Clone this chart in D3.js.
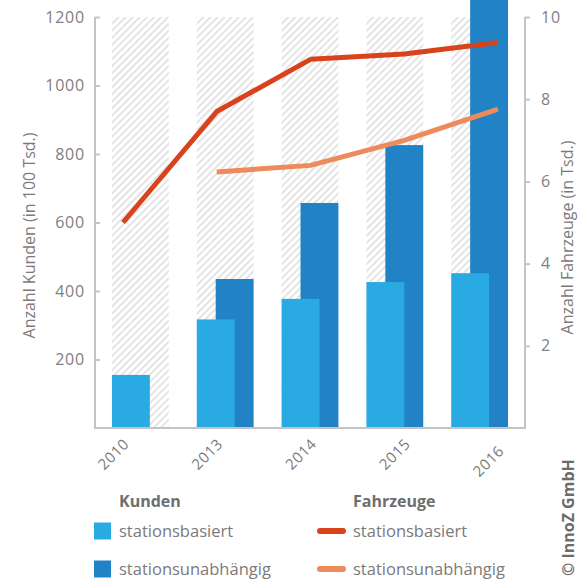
<!DOCTYPE html>
<html>
<head>
<meta charset="utf-8">
<script src="https://cdn.jsdelivr.net/npm/d3@7"></script>
<style>
  body { margin: 0; background: #fff; }
  svg text { font-family: "Open Sans", sans-serif; fill: #7a7a7a; }
</style>
</head>
<body>
<div class="chart"></div>
<script>
const years = ["2010", "2013", "2014", "2015", "2016"];
// Kunden (in 100 Tsd.)
const kundenBasiert = [155, 317, 377, 426, 452];
const kundenUnabh = [0, 435, 657, 826, 1300];
// Fahrzeuge (in Tsd.)
const fahrzeugeBasiert = [5.0, 7.7, 8.97, 9.1, 9.38];
const fahrzeugeUnabh = [null, 6.23, 6.39, 7.0, 7.76];
const leftTicks = [200, 400, 600, 800, 1000, 1200];
const rightTicks = [2, 4, 6, 8, 10];

const width = 588;
const height = 584;
const plotLeft = 95, plotRight = 525, plotTop = 17, plotBottom = 428;

const colLight = "#2aaae2";
const colDark = "#2182c6";
const colRed = "#d8431c";
const colOrange = "#ee8b5c";
const axisCol = "#c4c4c4";

const svg = d3.select(".chart").append("svg")
  .attr("width", width)
  .attr("height", height);

const defs = svg.append("defs");
defs.append("pattern")
  .attr("id", "hatch")
  .attr("patternUnits", "userSpaceOnUse")
  .attr("width", 5)
  .attr("height", 5)
  .attr("patternTransform", "rotate(45)")
  .append("line")
  .attr("x1", 1).attr("y1", 0)
  .attr("x2", 1).attr("y2", 5)
  .attr("stroke", "#d8d8d8")
  .attr("stroke-width", 1.4);

const x = d3.scaleBand().domain(years).range([plotLeft, plotRight])
  .paddingInner(0.33).paddingOuter(0.2);
const xp = d3.scalePoint().domain(years).range([plotLeft + 28, plotRight - 27]);
const yL = d3.scaleLinear().domain([0, 1200]).range([plotBottom, plotTop]);
const yR = d3.scaleLinear().domain([0, 10]).range([plotBottom, plotTop]);

// hatched background bands
svg.append("g").selectAll("rect")
  .data(years)
  .enter()
  .append("rect")
  .attr("x", d => x(d))
  .attr("y", plotTop)
  .attr("width", x.bandwidth())
  .attr("height", plotBottom - plotTop)
  .attr("fill", "url(#hatch)");

const bw = x.bandwidth() * 2 / 3;

svg.append("g").selectAll("rect")
  .data(years)
  .enter()
  .append("rect")
  .attr("x", d => x(d) + x.bandwidth() / 3)
  .attr("y", (d, i) => yL(kundenUnabh[i]))
  .attr("width", bw)
  .attr("height", (d, i) => plotBottom - yL(kundenUnabh[i]))
  .attr("fill", colDark);

svg.append("g").selectAll("rect")
  .data(years)
  .enter()
  .append("rect")
  .attr("x", d => x(d))
  .attr("y", (d, i) => yL(kundenBasiert[i]))
  .attr("width", bw)
  .attr("height", (d, i) => plotBottom - yL(kundenBasiert[i]))
  .attr("fill", colLight);

// axes
const gL = svg.append("g").attr("transform", `translate(${plotLeft},0)`)
  .call(d3.axisRight(yL).tickValues(leftTicks).tickSize(5).tickFormat(d3.format("d")));
gL.select(".domain").attr("stroke", axisCol).attr("stroke-width", 2)
  .attr("d", `M0,${plotTop}V${plotBottom}`);
gL.selectAll(".tick line").attr("stroke", axisCol).attr("stroke-width", 2);
gL.selectAll(".tick text")
  .attr("x", -10)
  .attr("text-anchor", "end")
  .attr("font-size", 16)
  .attr("letter-spacing", 0.8)
  .style("fill", "#808080");

const gR = svg.append("g").attr("transform", `translate(${plotRight},0)`)
  .call(d3.axisRight(yR).tickValues(rightTicks).tickSize(5));
gR.select(".domain").attr("stroke", axisCol).attr("stroke-width", 2)
  .attr("d", `M0,${plotTop}V${plotBottom}`);
gR.selectAll(".tick line").attr("stroke", axisCol).attr("stroke-width", 2);
gR.selectAll(".tick text")
  .attr("x", 16)
  .attr("font-size", 16)
  .attr("letter-spacing", 0.8)
  .style("fill", "#808080");

svg.append("line")
  .attr("x1", plotLeft - 1).attr("x2", plotRight + 1)
  .attr("y1", plotBottom).attr("y2", plotBottom)
  .attr("stroke", axisCol).attr("stroke-width", 2);

// lines
const line = d3.line()
  .defined(d => d[1] != null)
  .x(d => xp(d[0]))
  .y(d => yR(d[1]));

svg.append("path")
  .datum(years.map((d, i) => [d, fahrzeugeUnabh[i]]))
  .attr("d", line)
  .attr("fill", "none")
  .attr("stroke", colOrange)
  .attr("stroke-width", 5)
  .attr("stroke-linejoin", "round");

svg.append("path")
  .datum(years.map((d, i) => [d, fahrzeugeBasiert[i]]))
  .attr("d", line)
  .attr("fill", "none")
  .attr("stroke", colRed)
  .attr("stroke-width", 5)
  .attr("stroke-linejoin", "round");

// year labels
svg.append("g").selectAll("text")
  .data(years)
  .enter()
  .append("text")
  .attr("transform", d => `translate(${xp(d) + 7},${d === "2016" ? 452 : 445}) rotate(-45)`)
  .attr("text-anchor", "end")
  .attr("font-size", 15)
  .attr("letter-spacing", 0.5)
  .text(d => d);

// axis titles
svg.append("text")
  .attr("transform", `translate(35,${(plotTop + plotBottom) / 2 + 13}) rotate(-90)`)
  .attr("text-anchor", "middle")
  .attr("font-size", 16)
  .text("Anzahl Kunden (in 100 Tsd.)");

svg.append("text")
  .attr("transform", `translate(573,${(plotTop + plotBottom) / 2 + 15}) rotate(-90)`)
  .attr("text-anchor", "middle")
  .attr("font-size", 16)
  .text("Anzahl Fahrzeuge (in Tsd.)");

svg.append("text")
  .attr("transform", "translate(574,576) rotate(-90)")
  .attr("font-size", 16)
  .attr("font-weight", "bold")
  .style("fill", "#6b6b6b")
  .text("© InnoZ GmbH");

// legend
const legend = svg.append("g");
legend.append("text").attr("x", 119).attr("y", 507)
  .attr("font-size", 16).attr("font-weight", "bold").style("fill", "#6e6e6e")
  .text("Kunden");
legend.append("text").attr("x", 353).attr("y", 507)
  .attr("font-size", 16).attr("font-weight", "bold").style("fill", "#6e6e6e")
  .text("Fahrzeuge");

const rows = [531, 569];
const kundenLegend = [["stationsbasiert", colLight], ["stationsunabhängig", colDark]];
const fzLegend = [["stationsbasiert", colRed], ["stationsunabhängig", colOrange]];

kundenLegend.forEach((d, i) => {
  legend.append("rect").attr("x", 94).attr("y", rows[i] - 8.5)
    .attr("width", 17).attr("height", 17).attr("fill", d[1]);
  legend.append("text").attr("x", 119).attr("y", rows[i] + 6)
    .attr("font-size", 16.5).text(d[0]);
});
fzLegend.forEach((d, i) => {
  legend.append("line").attr("x1", 320).attr("x2", 343)
    .attr("y1", rows[i]).attr("y2", rows[i])
    .attr("stroke", d[1]).attr("stroke-width", 6).attr("stroke-linecap", "round");
  legend.append("text").attr("x", 353).attr("y", rows[i] + 6)
    .attr("font-size", 16.5).text(d[0]);
});
</script>
</body>
</html>
